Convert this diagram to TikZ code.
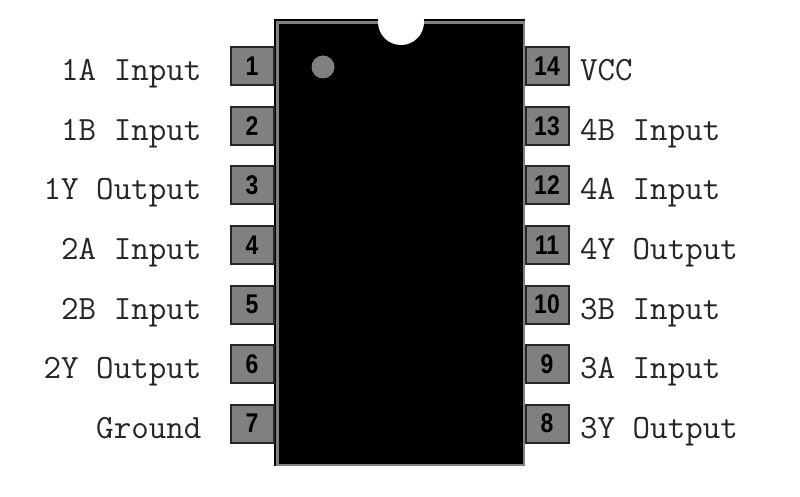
\documentclass[tikz,border=0pt]{standalone}
\usepackage{fontspec}
\usepackage{xcolor}
\newfontfamily\pinfont{Liberation Sans}
\usetikzlibrary{positioning}
\definecolor{chipgray}{RGB}{128,128,128}
\tikzstyle{pinbox} = [draw=black!85,line width=2pt,fill=chipgray,minimum width=43pt,minimum height=38pt,inner sep=0pt,font=\pinfont\bfseries\fontsize{27}{27}\selectfont,text=black]
\tikzstyle{pintext} = [inner sep=0pt,font=\ttfamily\fontsize{34}{34}\selectfont,text=black!85]

\begin{document}
\begin{tikzpicture}[x=1pt,y=-1pt]
    \useasboundingbox (0,0) rectangle (800,497);
    \fill[white] (0,0) rectangle (800,497);

    % Chip body
    \node[fill=chipgray,minimum width=250pt,minimum height=446pt,inner sep=0pt] (chipedge) at (400,243) {};
    \node[fill=black,minimum width=244pt,minimum height=439pt,inner sep=0pt] (chipbody) at (401,244) {};
    \draw[line width=2pt] (chipedge.south west) -- (chipedge.north west) -- (chipedge.north east);

    % Notch and dot
    \node[circle,fill=white,minimum size=46pt,inner sep=0pt] (notch) at (401,22) {};
    \node[circle,fill=chipgray,minimum size=23pt,inner sep=0pt] (dot) at (323,67) {};

    % Left pins
    \foreach \n/\txt in {1/1A Input, 2/1B Input, 3/1Y Output, 4/2A Input, 5/2B Input, 6/2Y Output, 7/Ground} {
        \pgfmathsetmacro{\y}{66.5+59.5*(\n-1)}
        \node[pinbox] (pin\n) at (252,\y) {\raisebox{-3pt}{\scalebox{0.85}[1]{\n}}};
        \node[pintext,anchor=base east] (text\n) at (201.5,\y+14.5) {\txt};
    }

    % Right pins
    \foreach \n/\txt in {14/VCC, 13/4B Input, 12/4A Input, 11/4Y Output, 10/3B Input, 9/3A Input, 8/3Y Output} {
        \pgfmathsetmacro{\y}{66.5+59.5*(14-\n)}
        \node[pinbox] (pin\n) at (547,\y) {\raisebox{-3pt}{\scalebox{0.85}[1]{\n}}};
        \node[pintext,anchor=base west] (text\n) at (580,\y+14.5) {\txt};
    }
\end{tikzpicture}
\end{document}
